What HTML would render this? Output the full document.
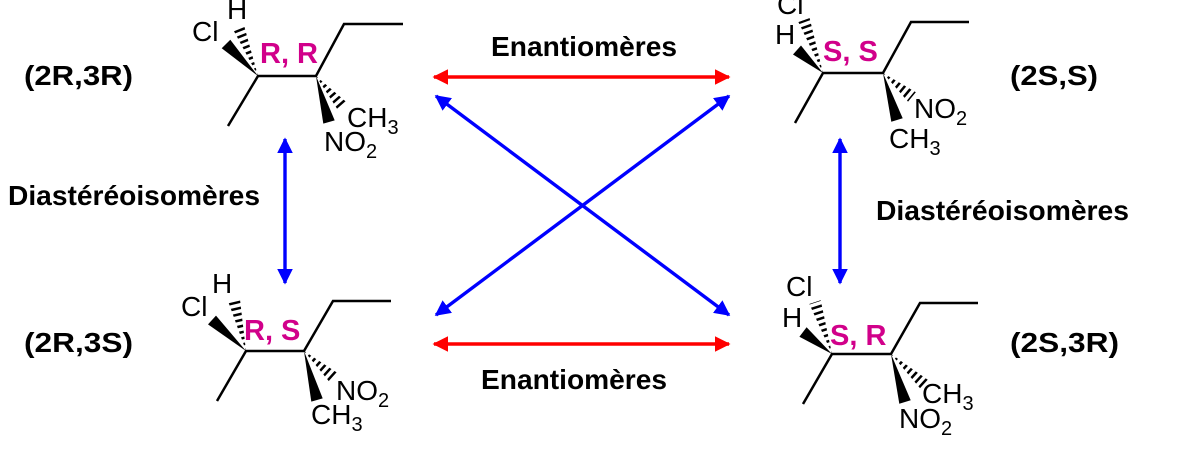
<!DOCTYPE html>
<html><head><meta charset="utf-8"><style>
html,body{margin:0;padding:0;background:#fff;}
svg{display:block;font-family:"Liberation Sans",Arial,sans-serif;}
.b{font-weight:bold;font-size:28px;fill:#000;}
.m{font-weight:bold;font-size:29px;fill:#d1008a;}
.a{font-size:28px;fill:#000;}
.s{font-size:20px;}
</style></head><body>
<svg width="1181" height="454" viewBox="0 0 1181 454" xmlns="http://www.w3.org/2000/svg">
<defs>
<marker id="rh" viewBox="0 0 10 10" refX="9" refY="5" markerWidth="4.6" markerHeight="5" orient="auto-start-reverse" markerUnits="strokeWidth"><path d="M0,0L10,5L0,10z" fill="#f00"/></marker>
<marker id="bh" viewBox="0 0 10 10" refX="9" refY="5" markerWidth="4.6" markerHeight="5" orient="auto-start-reverse" markerUnits="strokeWidth"><path d="M0,0L10,5L0,10z" fill="#00f"/></marker>
<clipPath id="h1"><polygon points="258,76 243.6,23.7 232.4,28.3"/></clipPath>
<clipPath id="h2"><polygon points="316,76 347.5,103 338.5,111"/></clipPath>
<clipPath id="h3"><polygon points="823,73 809.6,18 798.4,22"/></clipPath>
<clipPath id="h4"><polygon points="883,73 915.9,92.3 908.1,101.7"/></clipPath>
<clipPath id="h5"><polygon points="246,351 239.9,298.7 228.1,301.3"/></clipPath>
<clipPath id="h6"><polygon points="304,351 337,372.6 329,381.4"/></clipPath>
<clipPath id="h7"><polygon points="832,354 820.7,300.1 809.3,303.9"/></clipPath>
<clipPath id="h8"><polygon points="891,354 929,380.6 921,389.4"/></clipPath>
</defs>

<g stroke-width="3.4" fill="none">
<line x1="434" y1="77" x2="729" y2="77" stroke="#f00" marker-start="url(#rh)" marker-end="url(#rh)"/>
<line x1="434" y1="344" x2="729" y2="344" stroke="#f00" marker-start="url(#rh)" marker-end="url(#rh)"/>
<line x1="436" y1="96" x2="729" y2="315" stroke="#00f" marker-start="url(#bh)" marker-end="url(#bh)"/>
<line x1="729" y1="96" x2="436" y2="315" stroke="#00f" marker-start="url(#bh)" marker-end="url(#bh)"/>
<line x1="285" y1="139" x2="285" y2="283" stroke="#00f" marker-start="url(#bh)" marker-end="url(#bh)"/>
<line x1="840" y1="139" x2="840" y2="283" stroke="#00f" marker-start="url(#bh)" marker-end="url(#bh)"/>
</g>

<g stroke="#000" stroke-width="2.5" fill="none">
<polyline points="228,126 258,76 316,76 344,24 403,24"/>
<polyline points="795,123 823,73 883,73 911,22 969,22"/>
<polyline points="217,401 246,351 304,351 333,301 391,301"/>
<polyline points="803,404 832,354 891,354 920,303 978,303"/>
</g>
<g fill="#000">
<polygon points="258,76 230.3,39.7 221.7,48.3"/>
<polygon points="316,76 334.7,120.4 323.3,123.6"/>
<polygon points="823,73 801,45.5 793,54.5"/>
<polygon points="883,73 902.7,118.3 891.3,121.7"/>
<polygon points="246,351 216,315.6 208,324.4"/>
<polygon points="304,351 322.7,398.4 311.3,401.6"/>
<polygon points="832,354 806.6,327.2 799.4,336.8"/>
<polygon points="891,354 910.7,400.3 899.3,403.7"/>
</g>
<g stroke="#000" stroke-width="14" stroke-dasharray="2.5,3.5" fill="none">
<line x1="258" y1="76" x2="238" y2="26" clip-path="url(#h1)"/>
<line x1="316" y1="76" x2="343" y2="107" clip-path="url(#h2)"/>
<line x1="823" y1="73" x2="804" y2="20" clip-path="url(#h3)"/>
<line x1="883" y1="73" x2="912" y2="97" clip-path="url(#h4)"/>
<line x1="246" y1="351" x2="234" y2="300" clip-path="url(#h5)"/>
<line x1="304" y1="351" x2="333" y2="377" clip-path="url(#h6)"/>
<line x1="832" y1="354" x2="815" y2="302" clip-path="url(#h7)"/>
<line x1="891" y1="354" x2="925" y2="385" clip-path="url(#h8)"/>
</g>

<g class="a">
<text x="227" y="19">H</text>
<text x="192" y="41">Cl</text>
<text x="347" y="127">CH<tspan class="s" dy="7">3</tspan></text>
<text x="324" y="151">NO<tspan class="s" dy="7">2</tspan></text>

<text x="777" y="14">Cl</text>
<text x="775" y="44">H</text>
<text x="914" y="118">NO<tspan class="s" dy="7">2</tspan></text>
<text x="889" y="148">CH<tspan class="s" dy="7">3</tspan></text>

<text x="212" y="293">H</text>
<text x="181" y="316">Cl</text>
<text x="336" y="400">NO<tspan class="s" dy="7">2</tspan></text>
<text x="311" y="424">CH<tspan class="s" dy="7">3</tspan></text>

<text x="786" y="296">Cl</text>
<text x="782" y="327">H</text>
<text x="922" y="403">CH<tspan class="s" dy="7">3</tspan></text>
<text x="899" y="428">NO<tspan class="s" dy="7">2</tspan></text>
</g>
<g class="m">
<text x="260" y="63">R, R</text>
<text x="823" y="61">S, S</text>
<text x="244" y="340">R, S</text>
<text x="830" y="345">S, R</text>
</g>
<g class="b">
<text x="24" y="85" textLength="109" lengthAdjust="spacingAndGlyphs">(2R,3R)</text>
<text x="1010" y="85" textLength="88" lengthAdjust="spacingAndGlyphs">(2S,S)</text>
<text x="24" y="352" textLength="109" lengthAdjust="spacingAndGlyphs">(2R,3S)</text>
<text x="1010" y="352" textLength="109" lengthAdjust="spacingAndGlyphs">(2S,3R)</text>
<text x="491" y="56" textLength="186" lengthAdjust="spacingAndGlyphs">Enantiomères</text>
<text x="481" y="389" textLength="186" lengthAdjust="spacingAndGlyphs">Enantiomères</text>
<text x="8" y="205" textLength="252" lengthAdjust="spacingAndGlyphs">Diastéréoisomères</text>
<text x="876" y="220" textLength="253" lengthAdjust="spacingAndGlyphs">Diastéréoisomères</text>
</g>
</svg>
</body></html>
